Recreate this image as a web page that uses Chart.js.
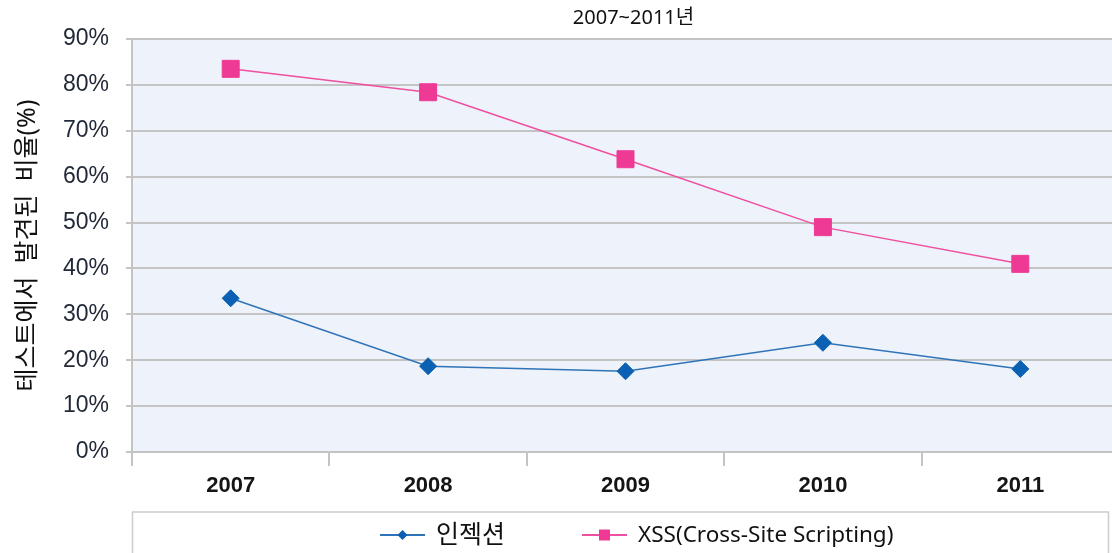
<!DOCTYPE html>
<html>
<head>
<meta charset="utf-8">
<script src="https://cdn.jsdelivr.net/npm/chart.js@4.4.1/dist/chart.umd.min.js"></script>
<style>
  html, body { margin: 0; padding: 0; background: #ffffff; overflow: hidden; }
  #wrap { width: 1119px; height: 553px; }
</style>
</head>
<body>
<div id="wrap"><canvas id="c" width="1119" height="553"></canvas></div>
<script>
// Share of tests in which each vulnerability was found, by year (%)
const years = ['2007', '2008', '2009', '2010', '2011'];
const injection = [33.5, 18.7, 17.6, 23.8, 18.1];
const xss = [83.5, 78.4, 63.8, 49.0, 41.0];
const seriesNames = ['인젝션', 'XSS(Cross-Site Scripting)'];
const yTickValues = [0, 10, 20, 30, 40, 50, 60, 70, 80, 90];
const titleText = '2007~2011년';
const yAxisTitle = '테스트에서  발견된  비율(%)';

const GRID = '#c4c4c4';
const SANS = '"Noto Sans", "Noto Sans CJK KR", sans-serif';
const HANGUL = /[\uac00-\ud7a3]/;

// Light blue fill behind the plot area, and the small title above it
const plotBackground = {
  id: 'plotBackground',
  beforeDraw(chart) {
    const { ctx, chartArea: a } = chart;
    ctx.save();
    ctx.fillStyle = '#eef2fa';
    ctx.fillRect(a.left, a.top, a.right - a.left, a.bottom - a.top);
    ctx.fillStyle = '#111111';
    ctx.font = '20px ' + SANS;
    ctx.textAlign = 'center';
    ctx.textBaseline = 'middle';
    ctx.fillText(titleText, (a.left + a.right) / 2 + 8, 18);
    ctx.restore();
  }
};

// Boxed legend under the axis: line sample with its marker, then the name
const boxedLegend = {
  id: 'boxedLegend',
  afterDraw(chart) {
    const { ctx, chartArea: a } = chart;
    ctx.save();
    ctx.strokeStyle = '#cccccc';
    ctx.lineWidth = 1.5;
    ctx.strokeRect(a.left + 0.5, 512, 976, 60);

    ctx.textBaseline = 'middle';
    ctx.textAlign = 'left';
    const y = 535;
    let x = a.left + 248;
    chart.data.datasets.forEach((ds) => {
      ctx.strokeStyle = ds.borderColor;
      ctx.lineWidth = 2;
      ctx.beginPath();
      ctx.moveTo(x, y);
      ctx.lineTo(x + 45, y);
      ctx.stroke();

      const cx = x + 22.5;
      ctx.fillStyle = ds.pointBackgroundColor;
      ctx.beginPath();
      if (ds.pointStyle === 'rectRot') {
        const r = 5;
        ctx.moveTo(cx - r, y);
        ctx.lineTo(cx, y - r);
        ctx.lineTo(cx + r, y);
        ctx.lineTo(cx, y + r);
        ctx.closePath();
      } else {
        ctx.rect(cx - 5.5, y - 5.5, 11, 11);
      }
      ctx.fill();

      ctx.font = (HANGUL.test(ds.label) ? '25px ' : '22.5px ') + SANS;
      ctx.fillStyle = '#111111';
      ctx.fillText(ds.label, x + 56, y + 1);
      x += 56 + ctx.measureText(ds.label).width + 77;
    });
    ctx.restore();
  }
};

new Chart(document.getElementById('c'), {
  type: 'line',
  data: {
    labels: years,
    datasets: [
      {
        label: seriesNames[0],
        data: injection,
        borderColor: '#2f74b8',
        borderWidth: 1.5,
        pointStyle: 'rectRot',
        pointRadius: 8.5,
        pointHoverRadius: 8.5,
        pointBackgroundColor: '#0a60b2',
        pointBorderColor: '#0a60b2',
        pointBorderWidth: 1,
        tension: 0
      },
      {
        label: seriesNames[1],
        data: xss,
        borderColor: '#ef4f9f',
        borderWidth: 1.5,
        pointStyle: 'rect',
        pointRadius: 12,
        pointHoverRadius: 12,
        pointBackgroundColor: '#ee3a95',
        pointBorderColor: '#ee3a95',
        pointBorderWidth: 1,
        tension: 0
      }
    ]
  },
  options: {
    responsive: false,
    animation: false,
    devicePixelRatio: 1,
    layout: { autoPadding: false, padding: { left: 0, right: 0, top: 39, bottom: 61 } },
    plugins: {
      legend: { display: false },
      tooltip: { enabled: false },
      title: { display: false }
    },
    scales: {
      x: {
        offset: true,
        afterFit(scale) {
          scale.height = 40;
          scale.paddingLeft = 0;
          scale.paddingRight = 0;
        },
        grid: {
          offset: true,
          drawOnChartArea: false,
          drawTicks: true,
          tickLength: 14,
          color: GRID,
          lineWidth: 2
        },
        border: { display: true, color: GRID, width: 2 },
        ticks: {
          color: '#151515',
          padding: 7,
          maxRotation: 0,
          font: { family: '"Liberation Sans", Arial, sans-serif', size: 22, weight: 'bold' }
        }
      },
      y: {
        min: 0,
        max: 90,
        afterFit(scale) {
          scale.width = 132;
          scale.paddingTop = 0;
          scale.paddingBottom = 0;
        },
        afterBuildTicks(scale) { scale.ticks = yTickValues.map(v => ({ value: v })); },
        grid: { color: GRID, lineWidth: 2, tickLength: 6, drawTicks: true },
        border: { display: true, color: GRID, width: 2 },
        ticks: {
          color: '#222a38',
          padding: 17,
          font: { family: '"Liberation Sans", Arial, sans-serif', size: 23 },
          callback: (v) => v + '%'
        },
        title: {
          display: true,
          text: yAxisTitle,
          color: '#111111',
          font: { family: SANS, size: 25, lineHeight: 1.2 },
          padding: { top: 13, bottom: 0 }
        }
      }
    }
  },
  plugins: [plotBackground, boxedLegend]
});
</script>
</body>
</html>
